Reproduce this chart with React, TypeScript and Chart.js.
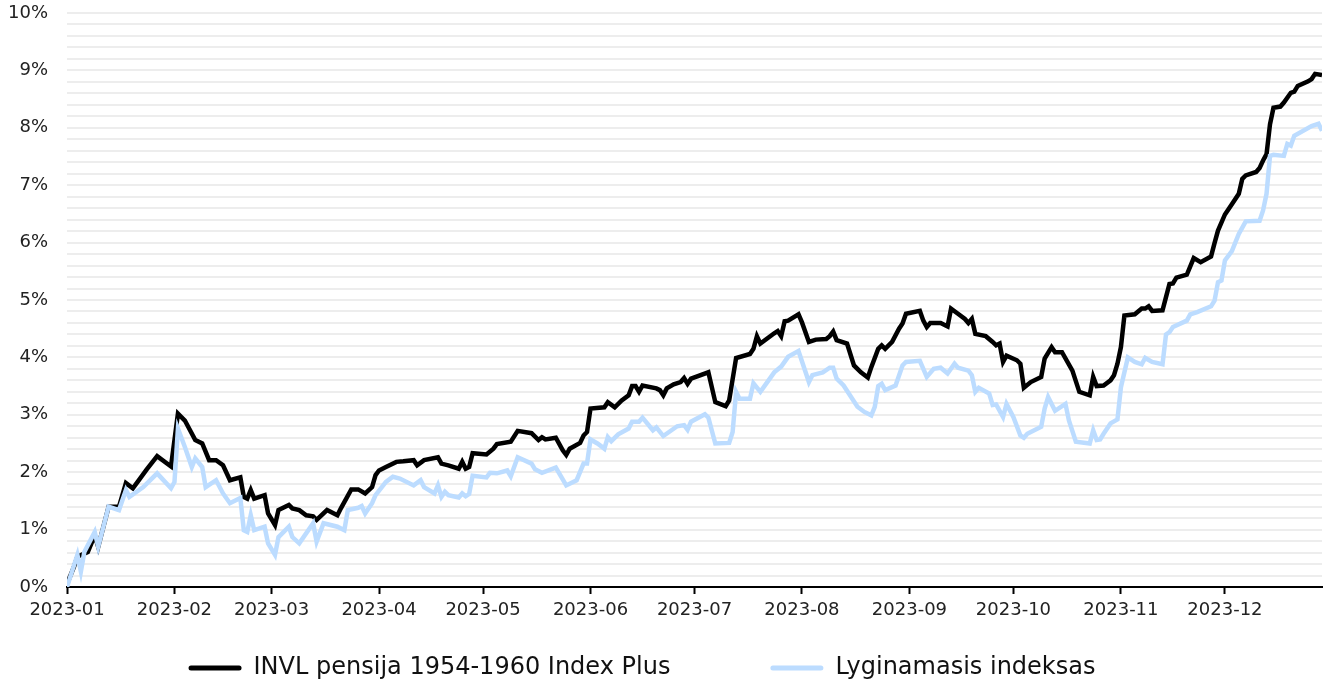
import React, { useEffect, useRef } from 'react';
import { Chart, registerables } from 'chart.js';

Chart.register(...registerables);

// ---- Data ----
const monthLabels = ['2023-01', '2023-02', '2023-03', '2023-04', '2023-05', '2023-06', '2023-07', '2023-08', '2023-09', '2023-10', '2023-11', '2023-12'];
// day-of-year offsets (0 = 2023-01-01) of the month starts
const monthStartDays = [0, 31, 59, 90, 120, 151, 181, 212, 243, 273, 304, 334];
const firstDay = 0;
const lastDay = 362;

const fundName = 'INVL pensija 1954-1960 Index Plus';
const fundDays = [
  0, 2, 3, 6, 8, 9, 12, 15, 17, 19, 23, 26, 30, 32, 34, 37, 39, 41, 43, 45, 47, 50, 51, 52, 53, 54, 57, 58, 60, 61,
  64, 65, 67, 69, 71, 72, 75, 78, 79, 82, 84, 86, 88, 89, 90, 92, 95, 97, 100, 101, 103, 107, 108, 110, 113, 114, 115, 116, 117, 121,
  123, 124, 128, 130, 134, 136, 137, 138, 141, 143, 144, 145, 148, 149, 150, 151, 155, 156, 158, 160, 162, 163, 164, 165, 166, 170, 171, 172, 173, 175,
  177, 178, 179, 180, 185, 187, 190, 191, 193, 197, 198, 199, 200, 204, 205, 206, 207, 208, 211, 212, 214, 216, 219, 220, 221, 222, 225, 227, 229, 231,
  232, 234, 235, 236, 238, 240, 241, 242, 246, 247, 248, 249, 252, 254, 255, 257, 259, 260, 261, 262, 265, 267, 268, 269, 270, 271, 274, 275, 276, 278,
  281, 282, 284, 285, 287, 290, 292, 295, 296, 297, 299, 301, 302, 303, 304, 305, 308, 310, 311, 312, 313, 316, 317, 318, 319, 320, 323, 325, 327, 330,
  331, 332, 334, 336, 338, 339, 340, 343, 344, 345, 346, 347, 348, 350, 351, 353, 354, 355, 358, 359, 360, 362,
];
const fundValues = [
  0.05, 0.35, 0.53, 0.61, 0.90, 0.70, 1.40, 1.40, 1.81, 1.72, 2.05, 2.28, 2.10, 3.02, 2.90, 2.56, 2.50, 2.21, 2.21, 2.12, 1.86, 1.91, 1.57, 1.54, 1.69, 1.54, 1.60, 1.28, 1.08, 1.34,
  1.43, 1.37, 1.34, 1.25, 1.23, 1.17, 1.34, 1.25, 1.37, 1.70, 1.70, 1.63, 1.74, 1.95, 2.03, 2.09, 2.18, 2.19, 2.21, 2.12, 2.21, 2.26, 2.15, 2.12, 2.06, 2.18, 2.06, 2.09, 2.33, 2.31,
  2.41, 2.49, 2.53, 2.72, 2.68, 2.56, 2.61, 2.57, 2.60, 2.38, 2.30, 2.41, 2.51, 2.64, 2.70, 3.11, 3.13, 3.22, 3.13, 3.25, 3.34, 3.50, 3.50, 3.40, 3.51, 3.46, 3.43, 3.34, 3.46, 3.53,
  3.57, 3.64, 3.54, 3.63, 3.74, 3.22, 3.15, 3.25, 3.99, 4.06, 4.15, 4.37, 4.24, 4.42, 4.46, 4.37, 4.63, 4.64, 4.75, 4.61, 4.27, 4.31, 4.32, 4.37, 4.45, 4.30, 4.24, 3.86, 3.74, 3.65,
  3.83, 4.15, 4.21, 4.15, 4.27, 4.50, 4.59, 4.76, 4.81, 4.64, 4.53, 4.60, 4.60, 4.54, 4.85, 4.76, 4.67, 4.60, 4.67, 4.41, 4.37, 4.27, 4.21, 4.24, 3.92, 4.03, 3.95, 3.89, 3.47, 3.57,
  3.66, 3.98, 4.18, 4.09, 4.09, 3.77, 3.40, 3.34, 3.66, 3.50, 3.51, 3.60, 3.69, 3.89, 4.18, 4.73, 4.75, 4.85, 4.85, 4.89, 4.81, 4.82, 5.05, 5.28, 5.29, 5.39, 5.44, 5.73, 5.66, 5.76,
  5.99, 6.21, 6.49, 6.67, 6.85, 7.11, 7.17, 7.23, 7.30, 7.43, 7.54, 8.06, 8.35, 8.37, 8.44, 8.61, 8.63, 8.73, 8.81, 8.85, 8.94, 8.92,
];

const indexName = 'Lyginamasis indeksas';
const indexDays = [
  0, 3, 4, 5, 8, 9, 12, 15, 17, 18, 22, 26, 30, 31, 32, 34, 36, 37, 39, 40, 43, 45, 47, 50, 51, 52, 53, 54, 57, 58,
  60, 61, 64, 65, 67, 71, 72, 74, 78, 80, 81, 84, 85, 86, 88, 89, 92, 94, 96, 100, 102, 103, 106, 107, 108, 109, 110, 113, 114, 115,
  116, 117, 121, 122, 124, 127, 128, 130, 134, 135, 137, 141, 144, 147, 149, 150, 151, 153, 155, 156, 157, 159, 162, 163, 165, 166, 169, 170, 172, 176,
  178, 179, 180, 184, 185, 187, 191, 192, 193, 194, 197, 198, 200, 204, 206, 208, 211, 214, 215, 218, 220, 221, 222, 224, 228, 230, 232, 233, 234, 235,
  236, 239, 241, 242, 246, 248, 250, 252, 254, 256, 257, 260, 261, 262, 263, 266, 267, 268, 270, 271, 273, 275, 276, 277, 281, 282, 283, 285, 288, 289,
  291, 295, 296, 297, 298, 299, 301, 303, 304, 306, 308, 310, 311, 313, 316, 317, 318, 319, 323, 324, 326, 330, 331, 332, 333, 334, 336, 338, 340, 344,
  345, 346, 347, 348, 351, 352, 353, 354, 359, 361, 362,
];
const indexValues = [
  0.00, 0.56, 0.27, 0.61, 0.96, 0.70, 1.40, 1.34, 1.69, 1.57, 1.74, 1.98, 1.72, 1.83, 2.76, 2.44, 2.09, 2.24, 2.09, 1.74, 1.86, 1.63, 1.46, 1.55, 0.99, 0.96, 1.25, 0.99, 1.05, 0.76,
  0.56, 0.87, 1.05, 0.87, 0.76, 1.11, 0.79, 1.11, 1.05, 0.99, 1.34, 1.38, 1.41, 1.28, 1.46, 1.60, 1.83, 1.92, 1.89, 1.77, 1.86, 1.74, 1.63, 1.77, 1.57, 1.66, 1.60, 1.56, 1.63, 1.58,
  1.62, 1.94, 1.91, 1.99, 1.98, 2.03, 1.93, 2.26, 2.15, 2.05, 1.99, 2.08, 1.77, 1.86, 2.15, 2.15, 2.57, 2.50, 2.41, 2.61, 2.54, 2.66, 2.76, 2.88, 2.88, 2.95, 2.73, 2.78, 2.63, 2.80,
  2.82, 2.74, 2.88, 3.01, 2.95, 2.50, 2.51, 2.70, 3.40, 3.28, 3.28, 3.55, 3.40, 3.74, 3.84, 4.01, 4.11, 3.57, 3.69, 3.74, 3.82, 3.82, 3.63, 3.51, 3.14, 3.05, 2.99, 3.14, 3.50, 3.54,
  3.43, 3.51, 3.86, 3.92, 3.94, 3.66, 3.80, 3.82, 3.72, 3.89, 3.82, 3.77, 3.69, 3.40, 3.47, 3.37, 3.17, 3.18, 2.96, 3.19, 2.96, 2.64, 2.60, 2.67, 2.79, 3.11, 3.31, 3.07, 3.19, 2.90,
  2.53, 2.50, 2.73, 2.56, 2.57, 2.67, 2.85, 2.92, 3.48, 4.00, 3.92, 3.88, 3.99, 3.92, 3.88, 4.40, 4.44, 4.53, 4.64, 4.75, 4.79, 4.89, 4.99, 5.31, 5.34, 5.69, 5.85, 6.15, 6.37, 6.38,
  6.56, 6.85, 7.51, 7.53, 7.51, 7.72, 7.69, 7.86, 8.03, 8.07, 7.95,
];

const yMin = 0;
const yMax = 10;
const yStep = 0.2;

// ---- Styling ----
const FONT_FAMILY = "Verdana, 'DejaVu Sans', sans-serif";
const FUND_COLOR = '#000000';
const INDEX_COLOR = '#bcdcff';
const GRID_COLOR = '#ededed';
const Y_AXIS_WIDTH = 59;
const X_AXIS_HEIGHT = 40;
const LEGEND_ITEM_GAP = 100;
const LEGEND_HEIGHT = 56;
const LEGEND_ROW_OFFSET = 29;
const LEGEND_SHIFT_X = -23;

const legendLayoutPlugin = {
  id: 'legendLayout',
  beforeInit(chart: any) {
    const legend = chart.legend;
    if (!legend || legend.__patched) return;
    legend.__patched = true;
    const origFit = legend.fit;
    legend.fit = function () {
      origFit.call(this);
      this.height = LEGEND_HEIGHT;
    };
    const origDraw = legend.draw;
    legend.draw = function () {
      const { top, left, right } = this;
      const pad = this.options.labels.padding || 0;
      this.top = top + LEGEND_ROW_OFFSET - pad;
      this.left = left + LEGEND_SHIFT_X;
      this.right = right + LEGEND_SHIFT_X;
      origDraw.call(this);
      this.top = top;
      this.left = left;
      this.right = right;
    };
  },
};

export default function App() {
  const canvasRef = useRef<HTMLCanvasElement | null>(null);

  useEffect(() => {
    const canvas = canvasRef.current;
    if (!canvas) return;

    const fundData = fundDays.map((d, i) => ({ x: d, y: fundValues[i] }));
    const indexData = indexDays.map((d, i) => ({ x: d, y: indexValues[i] }));

    const chart = new Chart(canvas, {
      type: 'line',
      data: {
        datasets: [
          {
            label: fundName,
            data: fundData,
            borderColor: FUND_COLOR,
            backgroundColor: FUND_COLOR,
            borderWidth: 4.5,
            pointRadius: 0,
            pointHoverRadius: 0,
            tension: 0,
            fill: false,
            order: 1,
          },
          {
            label: indexName,
            data: indexData,
            borderColor: INDEX_COLOR,
            backgroundColor: INDEX_COLOR,
            borderWidth: 4.5,
            pointRadius: 0,
            pointHoverRadius: 0,
            tension: 0,
            fill: false,
            order: 0,
          },
        ],
      },
      options: {
        animation: false,
        responsive: false,
        devicePixelRatio: 1,
        layout: { padding: { top: 13, left: 8, right: 2, bottom: 0 } },
        scales: {
          x: {
            type: 'linear',
            min: firstDay,
            max: lastDay,
            afterBuildTicks: (axis: any) => {
              axis.ticks = monthStartDays.map((v) => ({ value: v }));
            },
            afterFit: (axis: any) => {
              axis.height = X_AXIS_HEIGHT;
            },
            ticks: {
              autoSkip: false,
              maxRotation: 0,
              padding: 6,
              color: '#222',
              font: { family: FONT_FAMILY, size: 18 },
              callback: (value: any) => {
                const idx = monthStartDays.indexOf(Number(value));
                return idx >= 0 ? monthLabels[idx] : '';
              },
            },
            grid: {
              drawOnChartArea: false,
              drawTicks: true,
              tickLength: 7,
              tickWidth: 2,
              tickColor: '#000',
            },
            border: { display: true, color: '#000', width: 2 },
          },
          y: {
            min: yMin,
            max: yMax,
            afterFit: (axis: any) => {
              axis.width = Y_AXIS_WIDTH;
              axis.paddingTop = 0;
              axis.paddingBottom = 0;
            },
            ticks: {
              stepSize: yStep,
              autoSkip: false,
              padding: 19,
              color: '#222',
              font: { family: FONT_FAMILY, size: 18 },
              callback: (value: any) => {
                const v = Number(value);
                return Math.abs(v - Math.round(v)) < 1e-6 ? `${Math.round(v)}%` : '';
              },
            },
            grid: {
              color: GRID_COLOR,
              lineWidth: 2,
              drawTicks: false,
            },
            border: { display: false },
          },
        },
        plugins: {
          tooltip: { enabled: false },
          legend: {
            display: true,
            position: 'bottom',
            labels: {
              boxWidth: 53,
              boxHeight: 5,
              useBorderRadius: true,
              borderRadius: 2.5,
              padding: LEGEND_ITEM_GAP,
              color: '#111',
              font: { family: FONT_FAMILY, size: 24 },
              sort: (a: any, b: any) => a.datasetIndex - b.datasetIndex,
              generateLabels: (c: any) =>
                Chart.defaults.plugins.legend.labels.generateLabels(c).map((item: any) => ({ ...item, lineWidth: 0 })),
            },
          },
        },
      },
      plugins: [legendLayoutPlugin],
    } as any);

    return () => chart.destroy();
  }, []);

  return (
    <div style={{ position: 'absolute', left: 0, top: 0, width: 1324, height: 683, background: '#fff' }}>
      <canvas ref={canvasRef} width={1324} height={683} />
    </div>
  );
}
